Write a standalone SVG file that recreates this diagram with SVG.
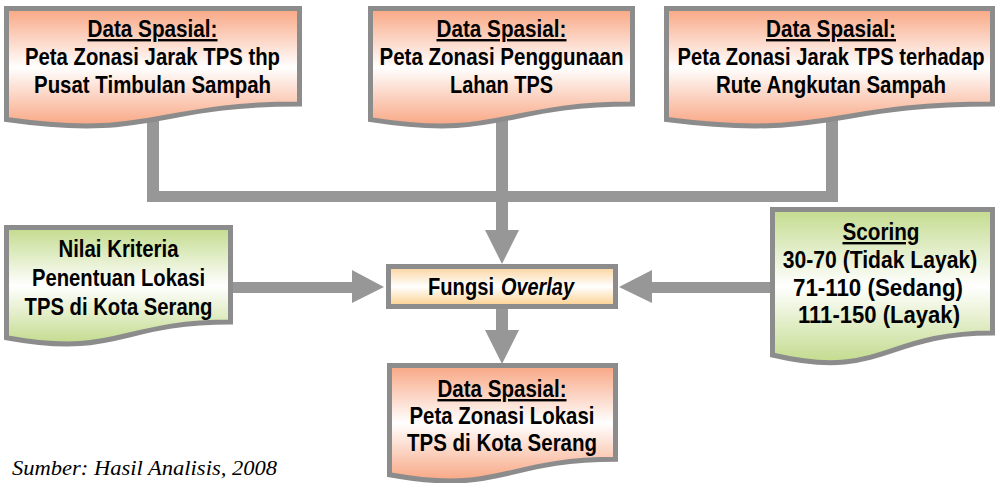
<svg xmlns="http://www.w3.org/2000/svg" width="997" height="483" viewBox="0 0 997 483">
  <defs>
    <linearGradient id="salmon" x1="0" y1="0" x2="0" y2="1">
      <stop offset="0" stop-color="#f8a683"/>
      <stop offset="0.5" stop-color="#ffffff"/>
      <stop offset="1" stop-color="#f8a683"/>
    </linearGradient>
    <linearGradient id="lime" x1="0" y1="0" x2="0" y2="1">
      <stop offset="0" stop-color="#c3db8d"/>
      <stop offset="0.5" stop-color="#ffffff"/>
      <stop offset="1" stop-color="#c3db8d"/>
    </linearGradient>
    <linearGradient id="peach" x1="0" y1="0" x2="0" y2="1">
      <stop offset="0" stop-color="#fbd29a"/>
      <stop offset="0.5" stop-color="#ffffff"/>
      <stop offset="1" stop-color="#fbcf8a"/>
    </linearGradient>
    <style>
      .doc { stroke: #8c8c8c; stroke-width: 5; stroke-linejoin: miter; }
      .lbl { font-family: "Liberation Sans", Arial, sans-serif; font-weight: bold; font-size: 24px; fill: #000; text-anchor: middle; }
      .st { text-anchor: start; }
      .u { text-decoration: underline; }
      .conn { fill: #979797; }
      .src { font-family: "Liberation Serif", "Times New Roman", serif; font-style: italic; font-size: 20px; fill: #000; }
    </style>
  </defs>

  <!-- connectors -->
  <g id="connectors" class="conn">
    <!-- three top sources merging into a bus -->
    <rect x="147" y="120" width="12" height="82"/>
    <rect x="496" y="120" width="12" height="111"/>
    <rect x="826" y="110" width="12" height="92"/>
    <rect x="147" y="191" width="691" height="11"/>
    <polygon points="485,230 519,230 502,264"/>
    <!-- criteria into overlay -->
    <rect x="232" y="282" width="121" height="11"/>
    <polygon points="352,270 352,303 384,287"/>
    <!-- scoring into overlay -->
    <rect x="651" y="282" width="121" height="11"/>
    <polygon points="652,270 652,303 619,287"/>
    <!-- overlay to result -->
    <rect x="496" y="307" width="12" height="25"/>
    <polygon points="485,330 519,330 502,364"/>
  </g>

  <!-- top left source map -->
  <g id="node-jarak-pusat">
    <path class="doc" fill="url(#salmon)" d="M6.5,8.5 H299.5 V104 C153,104 153,140.3 6.5,119.6 Z"/>
    <text class="lbl u" x="152.5" y="37" textLength="130" lengthAdjust="spacingAndGlyphs">Data Spasial:</text>
    <text class="lbl" x="152.5" y="65" textLength="255" lengthAdjust="spacingAndGlyphs">Peta Zonasi Jarak TPS thp</text>
    <text class="lbl" x="152.5" y="93" textLength="237" lengthAdjust="spacingAndGlyphs">Pusat Timbulan Sampah</text>
  </g>

  <!-- top middle source map -->
  <g id="node-penggunaan-lahan">
    <path class="doc" fill="url(#salmon)" d="M370.5,8.5 H632.5 V104 C501.5,104 501.5,140.3 370.5,119.6 Z"/>
    <text class="lbl u" x="501.5" y="37" textLength="130" lengthAdjust="spacingAndGlyphs">Data Spasial:</text>
    <text class="lbl" x="501.5" y="65" textLength="244" lengthAdjust="spacingAndGlyphs">Peta Zonasi Penggunaan</text>
    <text class="lbl" x="501.5" y="93" textLength="103" lengthAdjust="spacingAndGlyphs">Lahan TPS</text>
  </g>

  <!-- top right source map -->
  <g id="node-jarak-rute">
    <path class="doc" fill="url(#salmon)" d="M666.5,8.5 H992.5 V104 C829.5,104 829.5,140.3 666.5,119.6 Z"/>
    <text class="lbl u" x="831" y="37" textLength="130" lengthAdjust="spacingAndGlyphs">Data Spasial:</text>
    <text class="lbl" transform="translate(831 65) scale(0.84 1)" x="0" y="0">Peta Zonasi Jarak TPS terhadap</text>
    <text class="lbl" x="831" y="93" textLength="230" lengthAdjust="spacingAndGlyphs">Rute Angkutan Sampah</text>
  </g>

  <!-- criteria values -->
  <g id="node-kriteria">
    <path class="doc" fill="url(#lime)" d="M6.5,227.5 H230.5 V322 C118.5,322 118.5,358.2 6.5,337.7 Z"/>
    <text class="lbl" x="118.5" y="257" textLength="120" lengthAdjust="spacingAndGlyphs">Nilai Kriteria</text>
    <text class="lbl" x="118.5" y="286" textLength="173" lengthAdjust="spacingAndGlyphs">Penentuan Lokasi</text>
    <text class="lbl" x="118.5" y="315" textLength="188" lengthAdjust="spacingAndGlyphs">TPS di Kota Serang</text>
  </g>

  <!-- overlay function -->
  <g id="node-overlay">
    <rect class="doc" fill="url(#peach)" x="388.5" y="266.5" width="227" height="40"/>
    <text class="lbl st" x="428" y="295" textLength="66" lengthAdjust="spacingAndGlyphs">Fungsi</text>
    <text class="lbl st" x="501" y="295" font-style="italic" textLength="73" lengthAdjust="spacingAndGlyphs">Overlay</text>
  </g>

  <!-- scoring classes -->
  <g id="node-scoring">
    <path class="doc" fill="url(#lime)" d="M772.5,209.5 H992.5 V333 C882.5,333 882.5,381 772.5,355 Z"/>
    <text class="lbl u" x="881" y="240" textLength="77" lengthAdjust="spacingAndGlyphs">Scoring</text>
    <text class="lbl" transform="translate(880 268) scale(0.88 1)" x="0" y="0">30-70 (Tidak Layak)</text>
    <text class="lbl" x="878" y="296" textLength="170" lengthAdjust="spacingAndGlyphs">71-110 (Sedang)</text>
    <text class="lbl" x="879" y="323" textLength="162" lengthAdjust="spacingAndGlyphs">111-150 (Layak)</text>
  </g>

  <!-- resulting map -->
  <g id="node-hasil">
    <path class="doc" fill="url(#salmon)" d="M389.5,365.5 H615.5 V459.3 C502.5,459.3 502.5,495.1 389.5,474.8 Z"/>
    <text class="lbl u" x="502" y="397" textLength="129" lengthAdjust="spacingAndGlyphs">Data Spasial:</text>
    <text class="lbl" x="502" y="424" textLength="185" lengthAdjust="spacingAndGlyphs">Peta Zonasi Lokasi</text>
    <text class="lbl" x="502" y="451" textLength="190" lengthAdjust="spacingAndGlyphs">TPS di Kota Serang</text>
  </g>

  <text class="src" x="12" y="475" textLength="265" lengthAdjust="spacingAndGlyphs">Sumber: Hasil Analisis, 2008</text>
</svg>
